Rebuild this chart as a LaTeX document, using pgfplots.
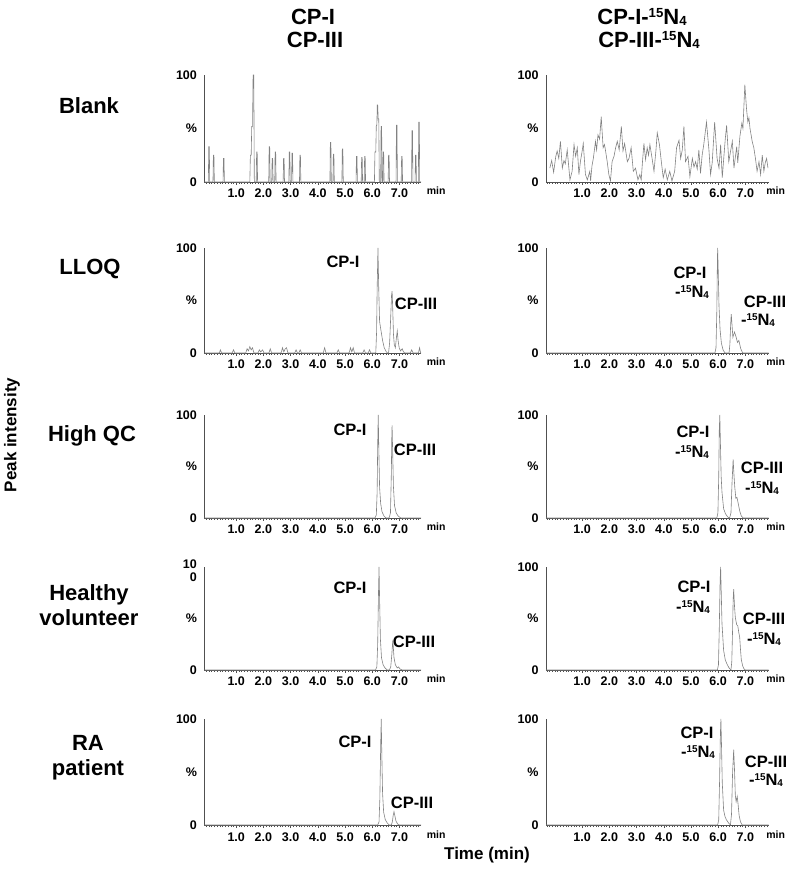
\documentclass[border=0pt]{standalone}
\usepackage{pgfplots}
\pgfplotsset{compat=1.18}
\usepackage{graphicx}
\usepackage{fontspec}
\setmainfont{Liberation Sans}
\definecolor{axc}{RGB}{80,80,80}
\definecolor{linec}{RGB}{130,130,130}
\pgfplotsset{
  chrom/.style={
    scale only axis, anchor=south west,
    ymin=0, ymax=100, clip=false,
    axis lines=left, axis line style={-, draw=axc, line width=0.8pt},
    ytick={0,50,100}, yticklabels={0,\%,100},
    ytick style={draw=none},
    xtick={1,2,3,4,5,6,7}, xticklabels={1.0,2.0,3.0,4.0,5.0,6.0,7.0},
    tick align=outside,
    major tick length=3pt, minor tick length=2pt,
    xtick style={draw=axc, line width=0.5pt},
    minor tick style={draw=axc, line width=0.4pt},
    tick label style={font=\bfseries\fontsize{12.5}{13}\selectfont, text=black},
    xticklabel style={anchor=base, yshift=-13pt},
    yticklabel style={anchor=east, xshift=-1pt},
  },
  chromL/.style={chrom, xmin=-0.17, xmax=7.8, width=216.8pt,
    minor xtick={-0.1,0,0.1,...,7.8}},
  chromR/.style={chrom, xmin=-0.33, xmax=7.85, width=222.5pt,
    minor xtick={-0.3,-0.2,...,7.8}},
  trace/.style={draw=linec, line width=0.6pt, mark=none},
}
\tikzset{
  minlab/.style={anchor=base west, yshift=-13pt, font=\bfseries\fontsize{10.5}{11}\selectfont},
  plab/.style={font=\bfseries\fontsize{16.5}{17}\selectfont},
  rlab/.style={font=\bfseries\fontsize{22}{25}\selectfont, align=center},
  tlab/.style={font=\bfseries\fontsize{22}{24}\selectfont},
}
\newcommand{\iso}{-\raisebox{0.62ex}{\scalebox{0.6}{15}}N\raisebox{-0.05ex}{\scalebox{0.6}{4}}}
\begin{document}
\begin{tikzpicture}
\useasboundingbox (0,0) rectangle (787pt,873pt);

% ---------- titles ----------
\node[tlab] at (313pt,856pt) {CP-I};
\node[tlab] at (315pt,833pt) {CP-III};
\node[tlab] at (642pt,856pt) {CP-I\iso};
\node[tlab] at (649pt,833pt) {CP-III\iso};

% ---------- row labels ----------
\node[rlab] at (89pt,767pt) {Blank};
\node[rlab] at (90pt,604pt) {LLOQ};
\node[rlab] at (92pt,437pt) {High QC};
\node[rlab] at (89pt,268pt) {Healthy\\volunteer};
\node[rlab] at (88pt,115pt) {RA\\patient};

\node[font=\bfseries\fontsize{17}{18}\selectfont, rotate=90] at (12pt,438pt) {Peak intensity};
\node[font=\bfseries\fontsize{17}{18}\selectfont] at (487pt,18pt) {Time (min)};

% ================= Blank =================
\begin{axis}[chromL, at={(204.4pt,691pt)}, height=107pt]
\addplot[trace] coordinates {
(-0.17,0)(-0.025,0)(-0.01,33)(0.01,33)(0.025,0)
(0.145,0)(0.16,25)(0.18,25)(0.195,0)
(0.515,0)(0.53,22)(0.55,22)(0.565,0)
(1.5,0)(1.52,25)(1.55,25)(1.57,52)(1.6,52)(1.62,100)(1.645,100)(1.665,0)
(1.735,0)(1.75,28)(1.77,28)(1.785,0)
(2.195,0)(2.21,33)(2.23,33)(2.245,0)
(2.305,0)(2.32,22)(2.34,22)(2.355,0)
(2.415,0)(2.43,28)(2.45,28)(2.465,0)
(2.725,0)(2.74,22)(2.76,22)(2.775,0)
(2.935,0)(2.95,28)(2.97,28)(2.985,0)
(3.035,0)(3.05,27)(3.07,27)(3.085,0)
(3.325,0)(3.34,25)(3.36,25)(3.375,0)
(4.445,0)(4.46,37)(4.48,37)(4.495,0)
(4.555,0)(4.57,26)(4.59,26)(4.605,0)
(4.885,0)(4.9,31)(4.92,31)(4.935,0)
(5.405,0)(5.42,24)(5.44,24)(5.455,0)
(5.595,0)(5.61,23)(5.63,23)(5.645,0)
(5.705,0)(5.72,24)(5.74,24)(5.755,0)
(6.08,0)(6.1,28)(6.13,28)(6.15,53)(6.17,53)(6.185,72)(6.2,72)(6.22,59)(6.24,59)(6.26,0)
(6.31,0)(6.325,52)(6.345,52)(6.36,0)
(6.385,0)(6.4,28)(6.42,28)(6.435,0)
(6.585,0)(6.6,25)(6.62,25)(6.635,0)
(6.875,0)(6.89,53)(6.91,53)(6.925,0)
(7.065,0)(7.08,24)(7.1,24)(7.115,0)
(7.445,0)(7.46,48)(7.48,48)(7.495,0)
(7.575,0)(7.59,25)(7.61,25)(7.625,0)
(7.695,0)(7.71,56)(7.73,56)(7.745,0)(7.8,0)
};
\node[minlab] at (axis cs:7.88,0) {min};
\end{axis}

\begin{axis}[chromR, at={(546pt,691pt)}, height=107pt]
\addplot[trace] coordinates {
(-0.19,13)(-0.12,20)(-0.05,9)(0.03,24)(0.08,29)(0.14,22)(0.20,38)(0.27,13)(0.33,20)(0.38,17)(0.45,30)(0.55,2)(0.63,10)(0.70,35)(0.76,24)(0.82,32)(0.88,7)
(0.94,20)(1.00,29)(1.04,36)(1.12,7)(1.19,2)(1.28,10)(1.31,1)(1.36,15)(1.41,22)(1.49,38)(1.53,30)(1.58,44)(1.64,40)(1.70,61)
(1.77,32)(1.82,35)(1.86,29)(1.92,19)(1.98,7)(2.04,1)(2.10,19)(2.17,24)(2.23,32)(2.29,38)(2.36,30)(2.44,52)
(2.50,29)(2.56,36)(2.66,19)(2.72,22)(2.80,32)(2.88,10)(2.96,13)(3.05,2)(3.12,7)(3.17,2)
(3.22,20)(3.27,36)(3.33,21)(3.39,32)(3.44,25)(3.49,35)(3.57,22)(3.64,10)(3.71,29)(3.76,46)(3.84,35)(3.91,19)
(3.98,4)(4.05,12)(4.13,2)(4.22,10)(4.30,1)(4.40,10)(4.47,32)(4.56,39)(4.62,22)(4.68,30)(4.74,52)(4.80,19)
(4.89,24)(4.96,5)(5.05,22)(5.11,14)(5.17,19)(5.23,12)(5.29,30)(5.35,8)(5.41,25)(5.47,35)(5.57,56)(5.66,30)(5.72,7)
(5.78,18)(5.87,56)(5.96,22)(6.03,13)(6.09,35)(6.15,4)(6.21,24)(6.26,40)(6.31,53)(6.39,19)(6.45,28)(6.52,38)
(6.58,13)(6.68,33)(6.72,18)(6.80,43)(6.87,55)(6.91,50)(6.98,91)(7.04,69)(7.09,56)(7.13,60)(7.17,50)
(7.25,38)(7.31,32)(7.37,22)(7.43,10)(7.50,19)(7.56,7)(7.62,25)(7.68,10)(7.73,18)(7.78,22)(7.83,13)
};
\node[minlab] at (axis cs:7.64,0) {min};
\end{axis}

% ================= LLOQ =================
\begin{axis}[chromL, at={(204.4pt,520pt)}, height=105pt]
\addplot[trace] coordinates {
(-0.17,0)(0.38,0)(0.42,3)(0.46,0)(0.85,0)(0.9,3)(0.95,0)
(1.35,0)(1.4,4)(1.45,2)(1.5,6)(1.55,3)(1.6,5)(1.65,0)
(1.8,0)(1.85,3)(1.9,1)(1.97,3)(2.02,0)(2.2,0)(2.25,4)(2.3,0)
(2.65,0)(2.7,5)(2.75,1)(2.8,4)(2.85,5)(2.9,0)(3.15,0)(3.2,3)(3.25,0)(3.3,0)(3.35,3)(3.4,0)
(4.2,0)(4.25,5)(4.3,0)(4.7,0)(4.75,3)(4.8,0)(5.15,0)(5.2,5)(5.25,1)(5.3,5)(5.35,0)
(5.65,0)(5.7,3)(5.75,0)(5.85,0)(5.9,3)(5.95,0)
(6.13,0)(6.16,20)(6.18,60)(6.21,100)(6.24,60)(6.27,30)(6.33,20)(6.38,12)(6.44,5)(6.52,1)(6.56,0)
(6.6,0)(6.64,10)(6.68,35)(6.71,55)(6.73,59)(6.75,45)(6.78,18)(6.81,8)(6.85,5)(6.89,15)(6.92,21)(6.95,12)(6.99,5)(7.04,2)(7.1,4)(7.15,1)(7.2,0)
(7.4,0)(7.45,3)(7.5,0)(7.7,0)(7.74,5)(7.78,0)(7.8,0)
};
\node[minlab] at (axis cs:7.88,0) {min};
\end{axis}

\begin{axis}[chromR, at={(546pt,520pt)}, height=105pt]
\addplot[trace] coordinates {
(-0.33,0)(5.88,0)(5.92,5)(5.95,40)(5.97,85)(5.98,100)(6.0,80)(6.03,45)(6.07,22)(6.12,9)(6.18,3)(6.25,0)
(6.4,0)(6.43,8)(6.46,28)(6.48,37)(6.5,30)(6.54,15)(6.6,20)(6.65,16)(6.71,10)(6.76,12)(6.83,4)(6.9,0)(7.85,0)
};
\node[minlab] at (axis cs:7.64,0) {min};
\end{axis}

% ================= High QC =================
\begin{axis}[chromL, at={(204.4pt,355pt)}, height=103pt]
\addplot[trace] coordinates {
(-0.17,0)(6.1,0)(6.15,3)(6.18,25)(6.2,70)(6.22,100)(6.24,70)(6.27,30)(6.31,14)(6.36,6)(6.43,2)(6.5,0)
(6.62,0)(6.67,5)(6.7,40)(6.72,80)(6.73,90)(6.75,65)(6.78,30)(6.82,12)(6.88,5)(6.95,2)(7.05,0)(7.8,0)
};
\node[minlab] at (axis cs:7.88,0) {min};
\end{axis}

\begin{axis}[chromR, at={(546pt,355pt)}, height=103pt]
\addplot[trace] coordinates {
(-0.33,0)(5.95,0)(5.99,5)(6.02,40)(6.04,85)(6.06,100)(6.08,75)(6.11,40)(6.14,25)(6.2,9)(6.27,4)(6.35,1)(6.42,0)
(6.47,5)(6.51,35)(6.55,57)(6.58,42)(6.61,30)(6.65,19)(6.69,20)(6.73,15)(6.79,7)(6.85,2)(6.92,0)(7.85,0)
};
\node[minlab] at (axis cs:7.64,0) {min};
\end{axis}

% ================= Healthy volunteer =================
\begin{axis}[chromL, at={(204.4pt,203pt)}, height=103pt,
  ytick={0,50}, yticklabels={0,\%},
  extra y ticks={100}, extra y tick labels={{10\\0}},
  extra y tick style={yticklabel style={align=right, yshift=-4pt}}]
\addplot[trace] coordinates {
(-0.17,0)(6.12,0)(6.17,3)(6.2,25)(6.23,75)(6.25,100)(6.27,70)(6.3,30)(6.34,12)(6.4,5)(6.47,2)(6.55,0)
(6.63,0)(6.68,3)(6.72,15)(6.75,27)(6.77,24)(6.8,12)(6.85,5)(6.92,2)(6.97,3)(7.02,1)(7.1,0)(7.8,0)
};
\node[minlab] at (axis cs:7.88,0) {min};
\end{axis}

\begin{axis}[chromR, at={(546pt,203pt)}, height=103pt]
\addplot[trace] coordinates {
(-0.33,0)(5.97,0)(6.01,5)(6.04,40)(6.07,85)(6.09,100)(6.11,78)(6.14,45)(6.2,19)(6.26,10)(6.32,6)(6.4,2)(6.47,0)
(6.5,8)(6.53,40)(6.55,68)(6.57,78.5)(6.6,62)(6.63,51)(6.68,44)(6.72,43)(6.76,36)(6.79,32)(6.82,20)(6.85,10)(6.9,4)(6.95,1)(7.0,0)(7.85,0)
};
\node[minlab] at (axis cs:7.64,0) {min};
\end{axis}

% ================= RA patient =================
\begin{axis}[chromL, at={(204.4pt,48pt)}, height=106pt]
\addplot[trace] coordinates {
(-0.17,0)(6.2,0)(6.25,3)(6.28,25)(6.31,75)(6.33,100)(6.35,70)(6.38,30)(6.42,12)(6.48,5)(6.55,2)(6.62,0)
(6.7,0)(6.74,3)(6.77,9)(6.8,12.5)(6.83,9)(6.87,4)(6.93,1)(7.0,0)(7.8,0)
};
\node[minlab] at (axis cs:7.88,0) {min};
\end{axis}

\begin{axis}[chromR, at={(546pt,48pt)}, height=106pt]
\addplot[trace] coordinates {
(-0.33,0)(5.98,0)(6.02,5)(6.05,40)(6.08,85)(6.1,100)(6.12,78)(6.15,40)(6.2,14)(6.25,8)(6.3,5)(6.38,2)(6.45,0)
(6.49,10)(6.53,50)(6.57,71)(6.6,52)(6.63,28)(6.66,22)(6.7,27)(6.73,20)(6.77,9)(6.82,3)(6.88,0)(7.85,0)
};
\node[minlab] at (axis cs:7.64,0) {min};
\end{axis}

% ---------- peak labels ----------
\node[plab] at (343pt,611pt) {CP-I};
\node[plab] at (416pt,569pt) {CP-III};
\node[plab] at (690pt,600pt) {CP-I};
\node[plab] at (692pt,581pt) {\iso};
\node[plab] at (765pt,571pt) {CP-III};
\node[plab] at (758pt,553pt) {\iso};

\node[plab] at (350pt,443pt) {CP-I};
\node[plab] at (415pt,423pt) {CP-III};
\node[plab] at (693pt,441pt) {CP-I};
\node[plab] at (692pt,421pt) {\iso};
\node[plab] at (762pt,405pt) {CP-III};
\node[plab] at (762pt,385pt) {\iso};

\node[plab] at (350pt,285pt) {CP-I};
\node[plab] at (414pt,231pt) {CP-III};
\node[plab] at (694pt,286pt) {CP-I};
\node[plab] at (693pt,266pt) {\iso};
\node[plab] at (764pt,254pt) {CP-III};
\node[plab] at (764pt,234pt) {\iso};

\node[plab] at (355pt,131pt) {CP-I};
\node[plab] at (412pt,70pt) {CP-III};
\node[plab] at (697pt,140pt) {CP-I};
\node[plab] at (698pt,121pt) {\iso};
\node[plab] at (766pt,111pt) {CP-III};
\node[plab] at (766pt,93pt) {\iso};
\end{tikzpicture}
\end{document}
